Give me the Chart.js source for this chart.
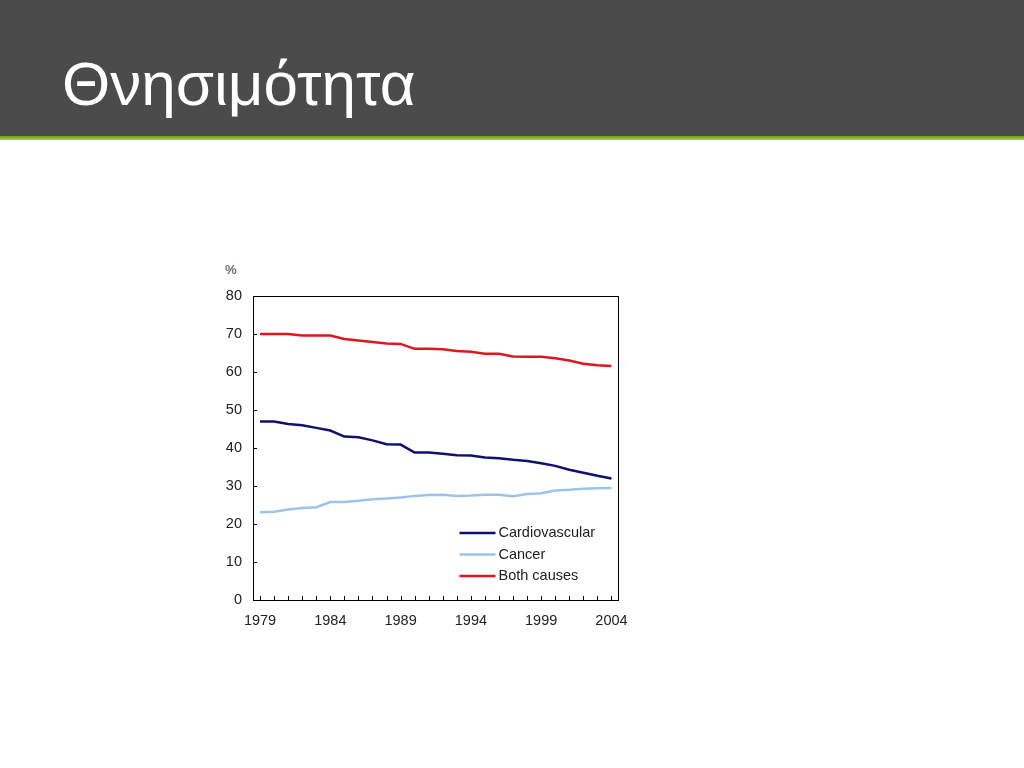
<!DOCTYPE html>
<html>
<head>
<meta charset="utf-8">
<script src="https://cdn.jsdelivr.net/npm/chart.js@4"></script>
<style>
    body { margin: 0; width: 1024px; height: 768px; background: #fff; overflow: hidden; font-family: "Liberation Sans", Arial, sans-serif; }
    .header { position: absolute; left: 0; top: 0; width: 1024px; height: 136px; background: #4b4b4b; }
    .bar { position: absolute; left: 0; top: 136px; width: 1024px; height: 4px; background: linear-gradient(#6f9a1a, #a8d13a); }
    .header h1 { position: absolute; left: 62px; top: 48px; margin: 0; color: #fff; font-weight: normal; font-size: 62px; line-height: 72px; }
    .box { position: absolute; left: 210px; top: 255px; width: 430px; height: 390px; }
    .unit { position: absolute; left: 225px; top: 262px; font-size: 13px; color: #333; }
</style>
</head>
<body>
<div class="header"><h1>Θνησιμότητα</h1></div>
<div class="bar"></div>
<div class="unit">%</div>
<div class="box"><canvas id="mortalidad"></canvas></div>
<script>
const years = ['1979','1980','1981','1982','1983','1984','1985','1986','1987','1988','1989','1990','1991',
    '1992','1993','1994','1995','1996','1997','1998','1999','2000','2001','2002','2003','2004'];
const cardio = [47.0, 47.0, 46.3, 46.0, 45.3, 44.6, 43.0, 42.8, 42.0, 41.0, 40.9, 38.8, 38.8,
    38.5, 38.1, 38.0, 37.5, 37.3, 36.9, 36.6, 36.0, 35.3, 34.3, 33.5, 32.7, 32.0];
const cancer = [23.1, 23.2, 23.8, 24.2, 24.4, 25.8, 25.8, 26.1, 26.5, 26.7, 27.0, 27.4, 27.6,
    27.7, 27.4, 27.5, 27.7, 27.7, 27.3, 27.9, 28.1, 28.8, 29.0, 29.3, 29.4, 29.5];
const both = [70.0, 70.0, 70.0, 69.6, 69.6, 69.6, 68.7, 68.3, 67.9, 67.5, 67.4, 66.1, 66.1,
    66.0, 65.5, 65.3, 64.8, 64.8, 64.1, 64.0, 64.0, 63.6, 63.0, 62.2, 61.8, 61.6];
const yTicks = [0, 10, 20, 30, 40, 50, 60, 70, 80];

// ticks hacia dentro, marco y leyenda
const marco = {
    id: 'marco',
    afterDraw(chart) {
        const c = chart.ctx
        const a = chart.chartArea
        const x = chart.scales.x
        const y = chart.scales.y
        c.save()
        c.strokeStyle = '#000'
        c.lineWidth = 1
        c.beginPath()
        years.forEach((yr, i) => {
            const px = Math.round(x.getPixelForValue(i)) + 0.5
            c.moveTo(px, a.bottom)
            c.lineTo(px, a.bottom - 4)
        })
        yTicks.forEach(v => {
            const py = Math.round(y.getPixelForValue(v)) + 0.5
            c.moveTo(a.left, py)
            c.lineTo(a.left + 4, py)
        })
        c.stroke()
        c.strokeRect(Math.round(a.left) + 0.5, Math.round(a.top) + 0.5, Math.round(a.right - a.left), Math.round(a.bottom - a.top))

        c.font = '14.5px "Liberation Sans", Arial, sans-serif'
        c.textBaseline = 'middle'
        c.fillStyle = '#222'
        chart.data.datasets.forEach((ds, i) => {
            const ly = a.bottom - 67 + i * 21.5
            c.strokeStyle = ds.borderColor
            c.lineWidth = 2.5
            c.beginPath()
            c.moveTo(a.right - 159, ly)
            c.lineTo(a.right - 123, ly)
            c.stroke()
            c.fillText(ds.label, a.right - 120, ly)
        })
        c.restore()
    }
}

const ctx = document.getElementById('mortalidad').getContext('2d')
const chart = new Chart(ctx, {
    type: 'line',
    data: {
        labels: years,
        datasets: [
            { label: 'Cardiovascular', data: cardio, borderColor: '#10106e', borderWidth: 2.5, pointRadius: 0, tension: 0 },
            { label: 'Cancer', data: cancer, borderColor: '#9dc3e8', borderWidth: 2.5, pointRadius: 0, tension: 0 },
            { label: 'Both causes', data: both, borderColor: '#e0151d', borderWidth: 2.5, pointRadius: 0, tension: 0 }
        ]
    },
    options: {
        responsive: true,
        maintainAspectRatio: false,
        animation: false,
        layout: { padding: { top: 41, right: 21, left: 0, bottom: 0 } },
        scales: {
            x: {
                type: 'category',
                offset: true,
                grid: { display: false, drawTicks: false },
                border: { display: false },
                afterFit: s => { s.height = 45 },
                ticks: {
                    autoSkip: false,
                    maxRotation: 0,
                    padding: 12,
                    color: '#222',
                    font: { size: 14.5, family: '"Liberation Sans", Arial, sans-serif' },
                    callback: function (v, i) { return i % 5 === 0 ? years[i] : '' }
                }
            },
            y: {
                min: 0,
                max: 80,
                grid: { display: false, drawTicks: false },
                border: { display: false },
                afterFit: s => { s.width = 43 },
                afterBuildTicks: s => { s.ticks = yTicks.map(v => ({ value: v })) },
                ticks: {
                    padding: 11,
                    color: '#222',
                    font: { size: 14.5, family: '"Liberation Sans", Arial, sans-serif' }
                }
            }
        },
        plugins: {
            legend: { display: false },
            tooltip: { enabled: false }
        }
    },
    plugins: [marco]
})
</script>
</body>
</html>
